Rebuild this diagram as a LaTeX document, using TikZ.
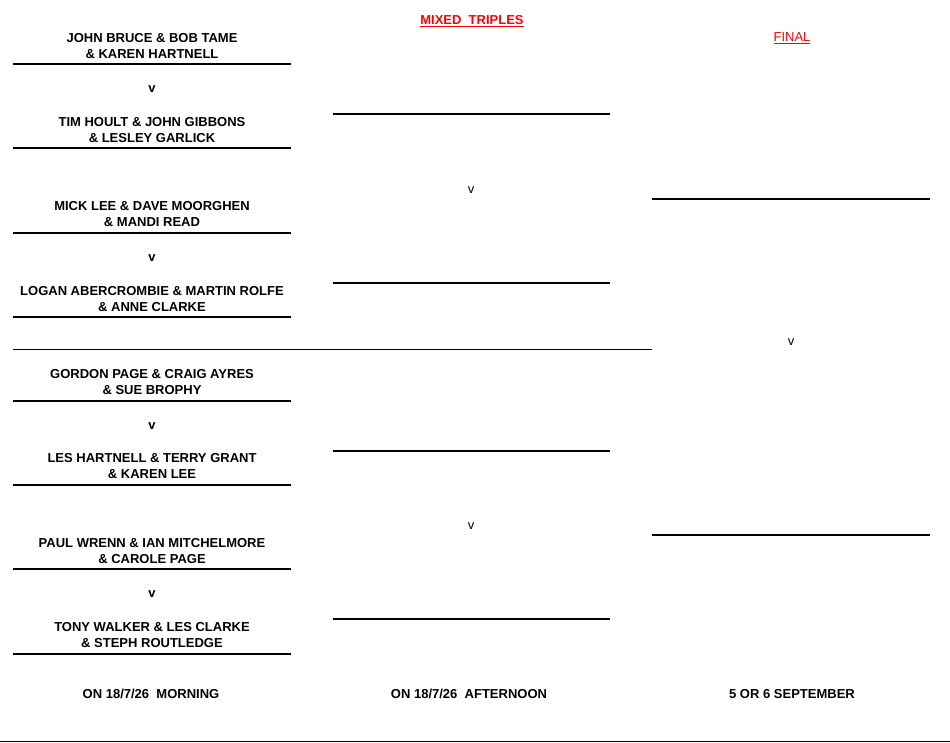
\documentclass[tikz,border=0pt]{standalone}
\usepackage{fontspec}
\setmainfont{Liberation Sans}
\begin{document}
\begin{tikzpicture}[x=1pt,y=-1pt,
  team/.style={font=\bfseries\fontsize{13}{16}\selectfont,align=center,inner sep=0},
  vs/.style={font=\bfseries\fontsize{13}{14}\selectfont,inner sep=0},
  vsl/.style={font=\fontsize{13}{14}\selectfont,inner sep=0},
  lline/.style={line width=1.6pt},
  mline/.style={line width=2.4pt}]
\useasboundingbox (0,0) rectangle (950,742);
\node[font=\bfseries\fontsize{13}{14}\selectfont,text=red,inner sep=0] (title) at (472,21) {\underline{MIXED\ \ TRIPLES}};
\node[font=\fontsize{13}{14}\selectfont,text=red,inner sep=0] (final) at (792,38) {\underline{FINAL}};
\foreach \y/\a/\b [count=\i] in {46/JOHN BRUCE \& BOB TAME/\& KAREN HARTNELL,
 130/TIM HOULT \& JOHN GIBBONS/\& LESLEY GARLICK,
 214/MICK LEE \& DAVE MOORGHEN/\& MANDI READ,
 299/LOGAN ABERCROMBIE \& MARTIN ROLFE/\& ANNE CLARKE,
 382/GORDON PAGE \& CRAIG AYRES/\& SUE BROPHY,
 466/LES HARTNELL \& TERRY GRANT/\& KAREN LEE,
 551/PAUL WRENN \& IAN MITCHELMORE/\& CAROLE PAGE,
 635/TONY WALKER \& LES CLARKE/\& STEPH ROUTLEDGE}
  {\node[team] (t\i) at (152,\y) {\a\\\b};}
\foreach \y [count=\i] in {64,148,233,317,401,485,569,654}
  {\coordinate (la\i) at (13,\y); \coordinate (lb\i) at (291,\y); \draw[lline] (la\i) -- (lb\i);}
\foreach \y [count=\i] in {114,283,451,619}
  {\coordinate (ma\i) at (333,\y); \coordinate (mb\i) at (610,\y); \draw[mline] (ma\i) -- (mb\i);}
\foreach \y [count=\i] in {199,535}
  {\coordinate (ra\i) at (652,\y); \coordinate (rb\i) at (930,\y); \draw[line width=1.4pt] (ra\i) -- (rb\i);}
\coordinate (sa) at (13,349); \coordinate (sb) at (652,349);
\draw[line width=0.6pt] (sa) -- (sb);
\coordinate (ba) at (0,741); \coordinate (bb) at (950,741);
\draw[line width=0.8pt] (ba) -- (bb);
\foreach \y [count=\i] in {89,258,426,594} {\node[vs] (v\i) at (152,\y) {v};}
\node[vsl] (mv1) at (471,190) {v};
\node[vsl] (mv2) at (471,526) {v};
\node[vsl] (rv) at (791,342) {v};
\node[vs] (d1) at (151,694) {ON 18/7/26\ \ MORNING};
\node[vs] (d2) at (469,694) {ON 18/7/26\ \ AFTERNOON};
\node[vs] (d3) at (792,694) {5 OR 6 SEPTEMBER};
\end{tikzpicture}
\end{document}
